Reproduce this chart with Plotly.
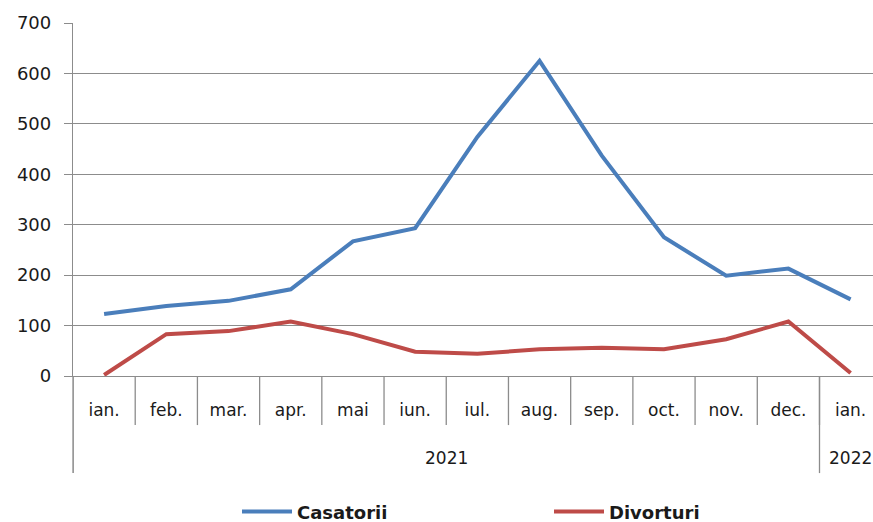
import plotly.graph_objects as go

months = ["ian.", "feb.", "mar.", "apr.", "mai", "iun.", "iul.", "aug.", "sep.", "oct.", "nov.", "dec.", "ian."]
years = ["2021", "2022"]
year_counts = [12, 1]
casatorii = [123, 139, 149, 172, 267, 293, 474, 625, 437, 275, 199, 213, 152]
divorturi = [2, 83, 89, 108, 83, 48, 44, 53, 56, 53, 73, 108, 6]

idx = list(range(len(months)))
BLUE = "#4A7EBB"
RED = "#BE4B48"
GRID = "#8C8C8C"
FONT = "DejaVu Sans"

fig = go.Figure()
fig.add_trace(go.Scatter(x=idx, y=casatorii, mode="lines", name="Casatorii",
                         line=dict(color=BLUE, width=4)))
fig.add_trace(go.Scatter(x=idx, y=divorturi, mode="lines", name="Divorturi",
                         line=dict(color=RED, width=4)))

# month dividers below the axis
for i in range(1, len(months)):
    fig.add_shape(type="line", xref="x", yref="paper", x0=i - 0.5, x1=i - 0.5,
                  y0=0, y1=-0.139, line=dict(color=GRID, width=1.3), layer="above")

# year dividers and labels
start = 0
for yr, cnt in zip(years, year_counts):
    fig.add_shape(type="line", xref="x", yref="paper", x0=start - 0.5, x1=start - 0.5,
                  y0=0, y1=-0.275, line=dict(color=GRID, width=1.3), layer="above")
    fig.add_annotation(text=yr, xref="x", yref="paper", x=start + (cnt - 1) / 2,
                       y=-0.232, showarrow=False, yanchor="middle",
                       font=dict(family=FONT, size=17, color="#1a1a1a"))
    start += cnt
fig.add_shape(type="line", xref="paper", yref="paper", x0=0, x1=0, y0=0, y1=-0.275,
              line=dict(color=GRID, width=1.3), layer="above")

fig.update_layout(
    width=873, height=522,
    margin=dict(l=73, r=0, t=23, b=146, autoexpand=False),
    paper_bgcolor="white", plot_bgcolor="white",
    showlegend=True,
    legend=dict(orientation="h", x=0.205, xanchor="left", y=-0.385, yanchor="middle",
                font=dict(family=FONT, size=18, color="#1a1a1a", weight="bold"),
                entrywidth=247, entrywidthmode="pixels", itemwidth=50),
    xaxis=dict(range=[-0.5, 12.36], tickmode="array", tickvals=idx, ticktext=months,
               showgrid=False, zeroline=False, showline=True, linecolor=GRID, linewidth=1.3,
               ticks="", ticklabelstandoff=18, ticklabeloverflow="allow", automargin=False,
               tickfont=dict(family=FONT, size=17, color="#1a1a1a")),
    yaxis=dict(range=[0, 700], dtick=100, showgrid=True, gridcolor=GRID, gridwidth=1.3,
               zeroline=False, showline=True, linecolor=GRID, linewidth=1.3,
               ticks="outside", ticklen=8, tickcolor=GRID, tickwidth=1.3,
               ticklabelstandoff=9, automargin=False,
               tickfont=dict(family=FONT, size=18, color="#1a1a1a")),
)

fig.write_html("out.html",
               config={"displayModeBar": False},
               post_script="document.body.style.margin='0';document.body.style.overflow='hidden';")
